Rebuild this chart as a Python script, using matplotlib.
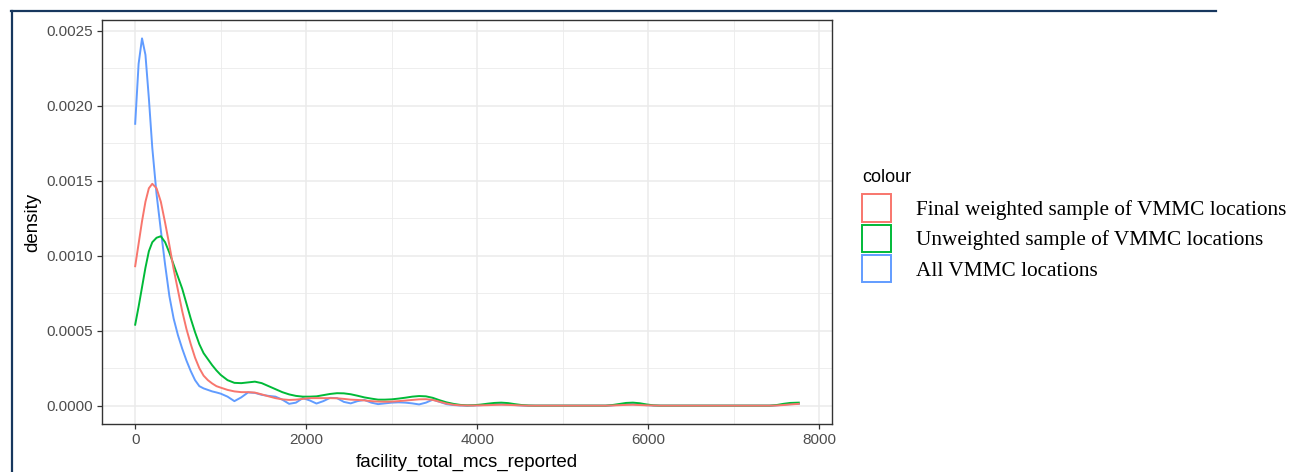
import matplotlib as mpl
mpl.use('Agg')
import matplotlib.pyplot as plt
from matplotlib.lines import Line2D
from matplotlib.patches import Patch
from matplotlib.ticker import FormatStrFormatter, MultipleLocator

# points where the density curves were evaluated
mcs_grid = [0, 40, 80, 120, 160, 200, 250, 300, 350, 400, 450, 500, 550, 600, 650,
            700, 750, 800, 850, 900, 950, 1000, 1080, 1160, 1240, 1320, 1400, 1480,
            1560, 1640, 1720, 1800, 1880, 1960, 2040, 2120, 2200, 2280, 2360, 2440,
            2520, 2600, 2680, 2760, 2840, 2920, 3000, 3080, 3160, 3240, 3320, 3400,
            3480, 3560, 3640, 3720, 3800, 3880, 3960, 4040, 4120, 4200, 4280, 4360,
            4440, 4520, 4600, 4680, 5500, 5580, 5660, 5740, 5820, 5900, 5980, 6060,
            6140, 7420, 7500, 7580, 7660, 7760]

dens_final = [0.00093, 0.00108, 0.00123, 0.00136, 0.00145, 0.00148, 0.00145, 0.00136,
              0.00122, 0.00107, 0.00091, 0.00077, 0.00063, 0.00051, 0.00041, 0.00032,
              0.00025, 0.00020, 0.00017, 0.000148, 0.00013, 0.00012, 0.000105,
              0.000095, 0.00009, 0.00009, 0.000087, 0.000075, 0.000062, 0.00005,
              0.000042, 0.000038, 0.00004, 0.000045, 0.00005, 0.00005, 0.00005,
              0.00005, 0.000049, 0.000045, 0.00004, 0.000038, 0.000035, 0.00003,
              0.000027, 0.000026, 0.000027, 0.00003, 0.000034, 0.000038, 0.000042,
              0.000043, 0.000038, 0.000026, 0.000014, 0.000006, 0.000002, 0.000001,
              0.000001, 0.000002, 0.000003, 0.000005, 0.000006, 0.000005, 0.000003,
              0.000001, 0.0, 0.0, 0.0, 0.000001, 0.000003, 0.000005, 0.000006,
              0.000004, 0.000002, 0.000001, 0.0, 0.0, 0.000001, 0.000004, 0.000008,
              0.000012]

dens_unweighted = [0.00054, 0.00066, 0.00079, 0.00092, 0.00103, 0.00109, 0.00112,
                   0.00113, 0.00109, 0.00102, 0.00094, 0.00086, 0.00078, 0.00068,
                   0.00058, 0.00049, 0.00041, 0.00035, 0.00031, 0.00027, 0.000235,
                   0.000205, 0.00017, 0.000152, 0.00015, 0.000155, 0.00016, 0.00015,
                   0.00013, 0.00011, 0.00009, 0.000075, 0.000065, 0.00006, 0.00006,
                   0.000062, 0.00007, 0.000078, 0.000083, 0.000082, 0.000076,
                   0.000066, 0.000055, 0.000047, 0.00004, 0.00004, 0.000042, 0.000047,
                   0.000053, 0.00006, 0.000064, 0.000062, 0.000052, 0.000036,
                   0.000022, 0.000012, 0.000005, 0.000002, 0.000003, 0.000007,
                   0.000013, 0.000018, 0.00002, 0.000017, 0.00001, 0.000004, 0.000001,
                   0.0, 0.0, 0.000004, 0.000011, 0.000018, 0.00002, 0.000016, 0.000008,
                   0.000002, 0.0, 0.0, 0.000004, 0.000012, 0.000018, 0.00002]

dens_all = [0.00188, 0.00228, 0.00245, 0.00234, 0.00205, 0.00172, 0.00141, 0.00117,
            0.00094, 0.00073, 0.00058, 0.00047, 0.00038, 0.00030, 0.00023, 0.00017,
            0.00013, 0.000115, 0.000105, 0.000095, 0.000088, 0.00008, 0.00006,
            0.00003, 0.000055, 0.000088, 0.000085, 0.000072, 0.000065, 0.00006,
            0.00004, 0.000012, 0.00002, 0.00005, 0.000035, 0.000014, 0.00003,
            0.000052, 0.00005, 0.000025, 0.000015, 0.00003, 0.000038, 0.00002,
            0.00001, 0.000015, 0.00002, 0.000022, 0.00002, 0.000015, 0.000008,
            0.00002, 0.00004, 0.000025, 0.00001, 0.000004, 0.000001, 0.0, 0.000001,
            0.000003, 0.000006, 0.000009, 0.00001, 0.000008, 0.000004, 0.000001,
            0.0, 0.0, 0.0, 0.000002, 0.000006, 0.000009, 0.00001, 0.000007,
            0.000003, 0.000001, 0.0, 0.0, 0.000002, 0.000006, 0.00001, 0.000012]

labels = ["Final weighted sample of VMMC locations",
          "Unweighted sample of VMMC locations",
          "All VMMC locations"]
cores = ["#F8766D", "#00BA38", "#619CFF"]

plt.rcParams['font.family'] = ['Liberation Sans', 'DejaVu Sans']

fig = plt.figure(figsize=(12.9, 4.72), dpi=100)
ax = fig.add_axes([102 / 1290, 1 - 424 / 472, 730 / 1290, 404 / 472])

# curvas: azul por baixo, vermelha por cima
ax.plot(mcs_grid, dens_all, color=cores[2], lw=1.4, zorder=3)
ax.plot(mcs_grid, dens_unweighted, color=cores[1], lw=1.4, zorder=4)
ax.plot(mcs_grid, dens_final, color=cores[0], lw=1.4, zorder=5)

xmax = max(mcs_grid)
ymax = max(dens_all + dens_final + dens_unweighted)
ax.set_xlim(-0.05 * xmax, 1.05 * xmax)
ax.set_ylim(-0.05 * ymax, 1.05 * ymax)

ax.xaxis.set_major_locator(MultipleLocator(2000))
ax.xaxis.set_minor_locator(MultipleLocator(1000))
ax.yaxis.set_major_locator(MultipleLocator(0.0005))
ax.yaxis.set_minor_locator(MultipleLocator(0.00025))
ax.yaxis.set_major_formatter(FormatStrFormatter('%.4f'))

ax.grid(which='major', color='#EBEBEB', lw=1.1)
ax.grid(which='minor', color='#EBEBEB', lw=0.6)
ax.set_axisbelow(True)
for s in ax.spines.values():
    s.set_color('#333333')
    s.set_linewidth(1.0)
ax.tick_params(which='major', length=3.5, width=0.9, color='#333333',
               labelcolor='#4D4D4D', labelsize=11, pad=3)
ax.tick_params(which='minor', length=0)

ax.set_xlabel("facility_total_mcs_reported", fontsize=13.5, color='black', labelpad=5)
ax.set_ylabel("density", fontsize=13.5, color='black', labelpad=4)

handles = [Patch(facecolor='white', edgecolor=c, linewidth=1.4) for c in cores]
leg = fig.legend(handles, labels, loc='upper left',
                 bbox_to_anchor=(862 / 1290, 1 - 169 / 472),
                 frameon=False, borderpad=0, borderaxespad=0,
                 handlelength=1.36, handleheight=1.6, labelspacing=0.14,
                 handletextpad=1.2, title="colour", alignment='left',
                 prop={'family': 'Liberation Serif', 'size': 15.3},
                 title_fontproperties={'family': 'Liberation Sans', 'size': 13})
leg._legend_box.sep = 6

# moldura escura do documento
fig.add_artist(Line2D([11 / 1290, 1216 / 1290], [1 - 10.5 / 472, 1 - 10.5 / 472],
                      color='#17375E', lw=1.6, transform=fig.transFigure))
fig.add_artist(Line2D([11.5 / 1290, 11.5 / 1290], [0, 1 - 10.5 / 472],
                      color='#17375E', lw=1.6, transform=fig.transFigure))

fig.savefig('out.png', dpi=100)
